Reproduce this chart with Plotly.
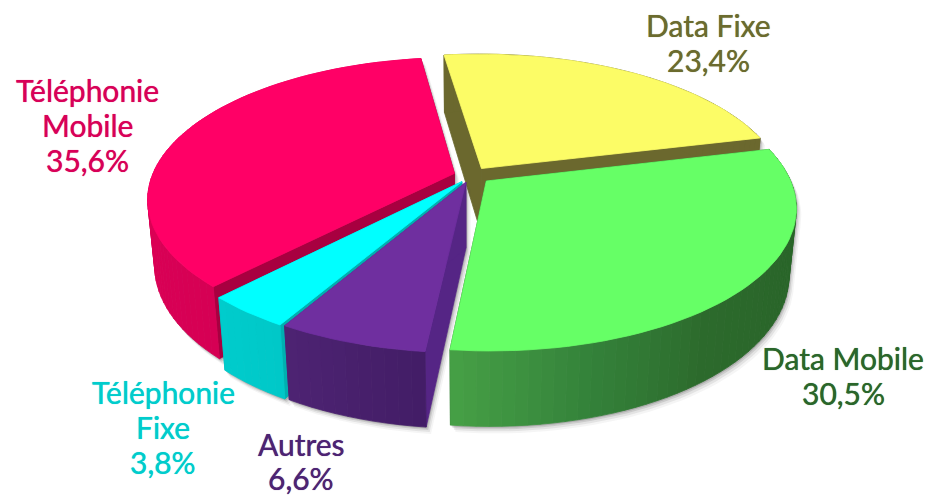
import math
import plotly.graph_objects as go

# ---- data ----
names = ["Data Fixe", "Data Mobile", "Autres", "Téléphonie Fixe", "Téléphonie Mobile"]
label_lines = [["Data Fixe"], ["Data Mobile"], ["Autres"], ["Téléphonie", "Fixe"], ["Téléphonie", "Mobile"]]
values = [23.4, 30.5, 6.6, 3.8, 35.6]

# ---- style ----
pull_xy = [(0.045, -0.066), (0.060, 0.025), (-0.007, 0.034), (-0.02, 0.03), (-0.045, -0.03)]
top_colors = ["#FCFC66", "#66FF66", "#6F2F9F", "#00FFFF", "#FF0066"]
wall_colors = ["#6B682E", "#2A662A", "#552585", "#00B0B0", "#A80040"]
side_stops = [
    ["#6B682E", "#6B682E"],
    ["#2A662A", "#2A662A", "#2A662A", "#2C6A2C", "#34823A", "#46A046"],
    ["#431D66", "#4D2373"],
    ["#00C8C8", "#00CCCC"],
    ["#D60054", "#E6005A"],
]
text_colors = ["#6B6B2E", "#2A662A", "#4D2373", "#00CCCC", "#D80058"]
label_pos = [(708, 25), (843, 358), (301, 444), (163, 392), (87, 90)]
LINE_STEPS = [35, 35, 34, 35, 35]
draw_order = [0, 4, 1, 3, 2]
START_ANGLE = -8.0

CX, CY, RX, RY, K, H, M = 468.0, 177.5, 303.0, 138.0, 0.18, 67.0, 0.022


def project(u, v, z=0.0):
    w = 1 - K * v + M * z
    return CX + RX * u / w, CY + (RY * v + H * z) / w


def hull(points):
    pts = sorted(set(points))
    def half(seq):
        out = []
        for p in seq:
            while len(out) > 1 and (out[-1][0]-out[-2][0])*(p[1]-out[-2][1]) - (out[-1][1]-out[-2][1])*(p[0]-out[-2][0]) <= 0:
                out.pop()
            out.append(p)
        return out[:-1]
    return half(pts) + half(pts[::-1])


def mix(c1, c2, t):
    a = [int(c1[i:i+2], 16) for i in (1, 3, 5)]
    b = [int(c2[i:i+2], 16) for i in (1, 3, 5)]
    return "#%02X%02X%02X" % tuple(round(x + (y - x) * t) for x, y in zip(a, b))


def ramp(stops, t):
    p = t * (len(stops) - 1)
    k = min(int(p), len(stops) - 2)
    return mix(stops[k], stops[k + 1], p - k)


fig = go.Figure()


def poly(pts, color, opacity=None, line=True):
    xs = [p[0] for p in pts] + [pts[0][0]]
    ys = [p[1] for p in pts] + [pts[0][1]]
    fc = color if opacity is None else "rgba(60,60,60,%g)" % opacity
    fig.add_trace(go.Scatter(
        x=xs, y=ys, mode="lines", fill="toself", fillcolor=fc,
        line=dict(color=color, width=0.8) if line else dict(width=0),
        hoverinfo="skip", showlegend=False))


total = sum(values)
angles = []
a = START_ANGLE
for val in values:
    b = a + 360.0 * val / total
    angles.append((a, b))
    a = b

for i in draw_order:
    a0, a1 = angles[i]
    ox, oy = pull_xy[i]
    n = max(8, int((a1 - a0) / 2))
    ths = [math.radians(a0 + (a1 - a0) * j / n) for j in range(n + 1)]
    rim = [(ox + math.sin(t), oy - math.cos(t)) for t in ths]

    top = [project(ox, oy)] + [project(u, v) for u, v in rim]
    bottom = [project(ox, oy, 1)] + [project(u, v, 1) for u, v in rim]

    # soft drop shadow
    sil = hull(top + bottom)
    for off, op in ((7, 0.05), (5, 0.09), (3, 0.14), (1.5, 0.2)):
        poly([(x + off * 0.7, y + off) for x, y in sil], "rgba(0,0,0,0)", opacity=op, line=False)

    # cut walls
    for u, v in (rim[0], rim[-1]):
        poly([project(ox, oy), project(u, v), project(u, v, 1), project(ox, oy, 1)], wall_colors[i])

    # outer side, in shaded bands
    for j in range(n):
        col = ramp(side_stops[i], (j + 0.5) / n)
        (u0, v0), (u1, v1) = rim[j], rim[j + 1]
        poly([project(u0, v0), project(u1, v1), project(u1, v1, 1), project(u0, v0, 1)], col)

    # top face
    poly(top, top_colors[i])

for i, name in enumerate(names):
    pct = f"{values[i]:.1f}".replace(".", ",") + "%"
    x0, y0 = label_pos[i]
    for j, line in enumerate(label_lines[i] + [pct]):
        fig.add_annotation(
            x=x0, y=y0 + j * LINE_STEPS[i], xref="x", yref="y", yanchor="middle",
            text=line, showarrow=False, align="center",
            font=dict(family="Lato", size=30, color=text_colors[i],
                      shadow=f"0 0 0.7px {text_colors[i]}"))

fig.update_layout(
    width=930, height=497, margin=dict(l=0, r=0, t=0, b=0),
    paper_bgcolor="white", plot_bgcolor="white", showlegend=False,
    xaxis=dict(range=[0, 930], visible=False, fixedrange=True),
    yaxis=dict(range=[497, 0], visible=False, fixedrange=True),
)
fig.write_html("out.html", config={"displayModeBar": False},
               post_script="document.body.style.margin='0';document.body.style.overflow='hidden';")
